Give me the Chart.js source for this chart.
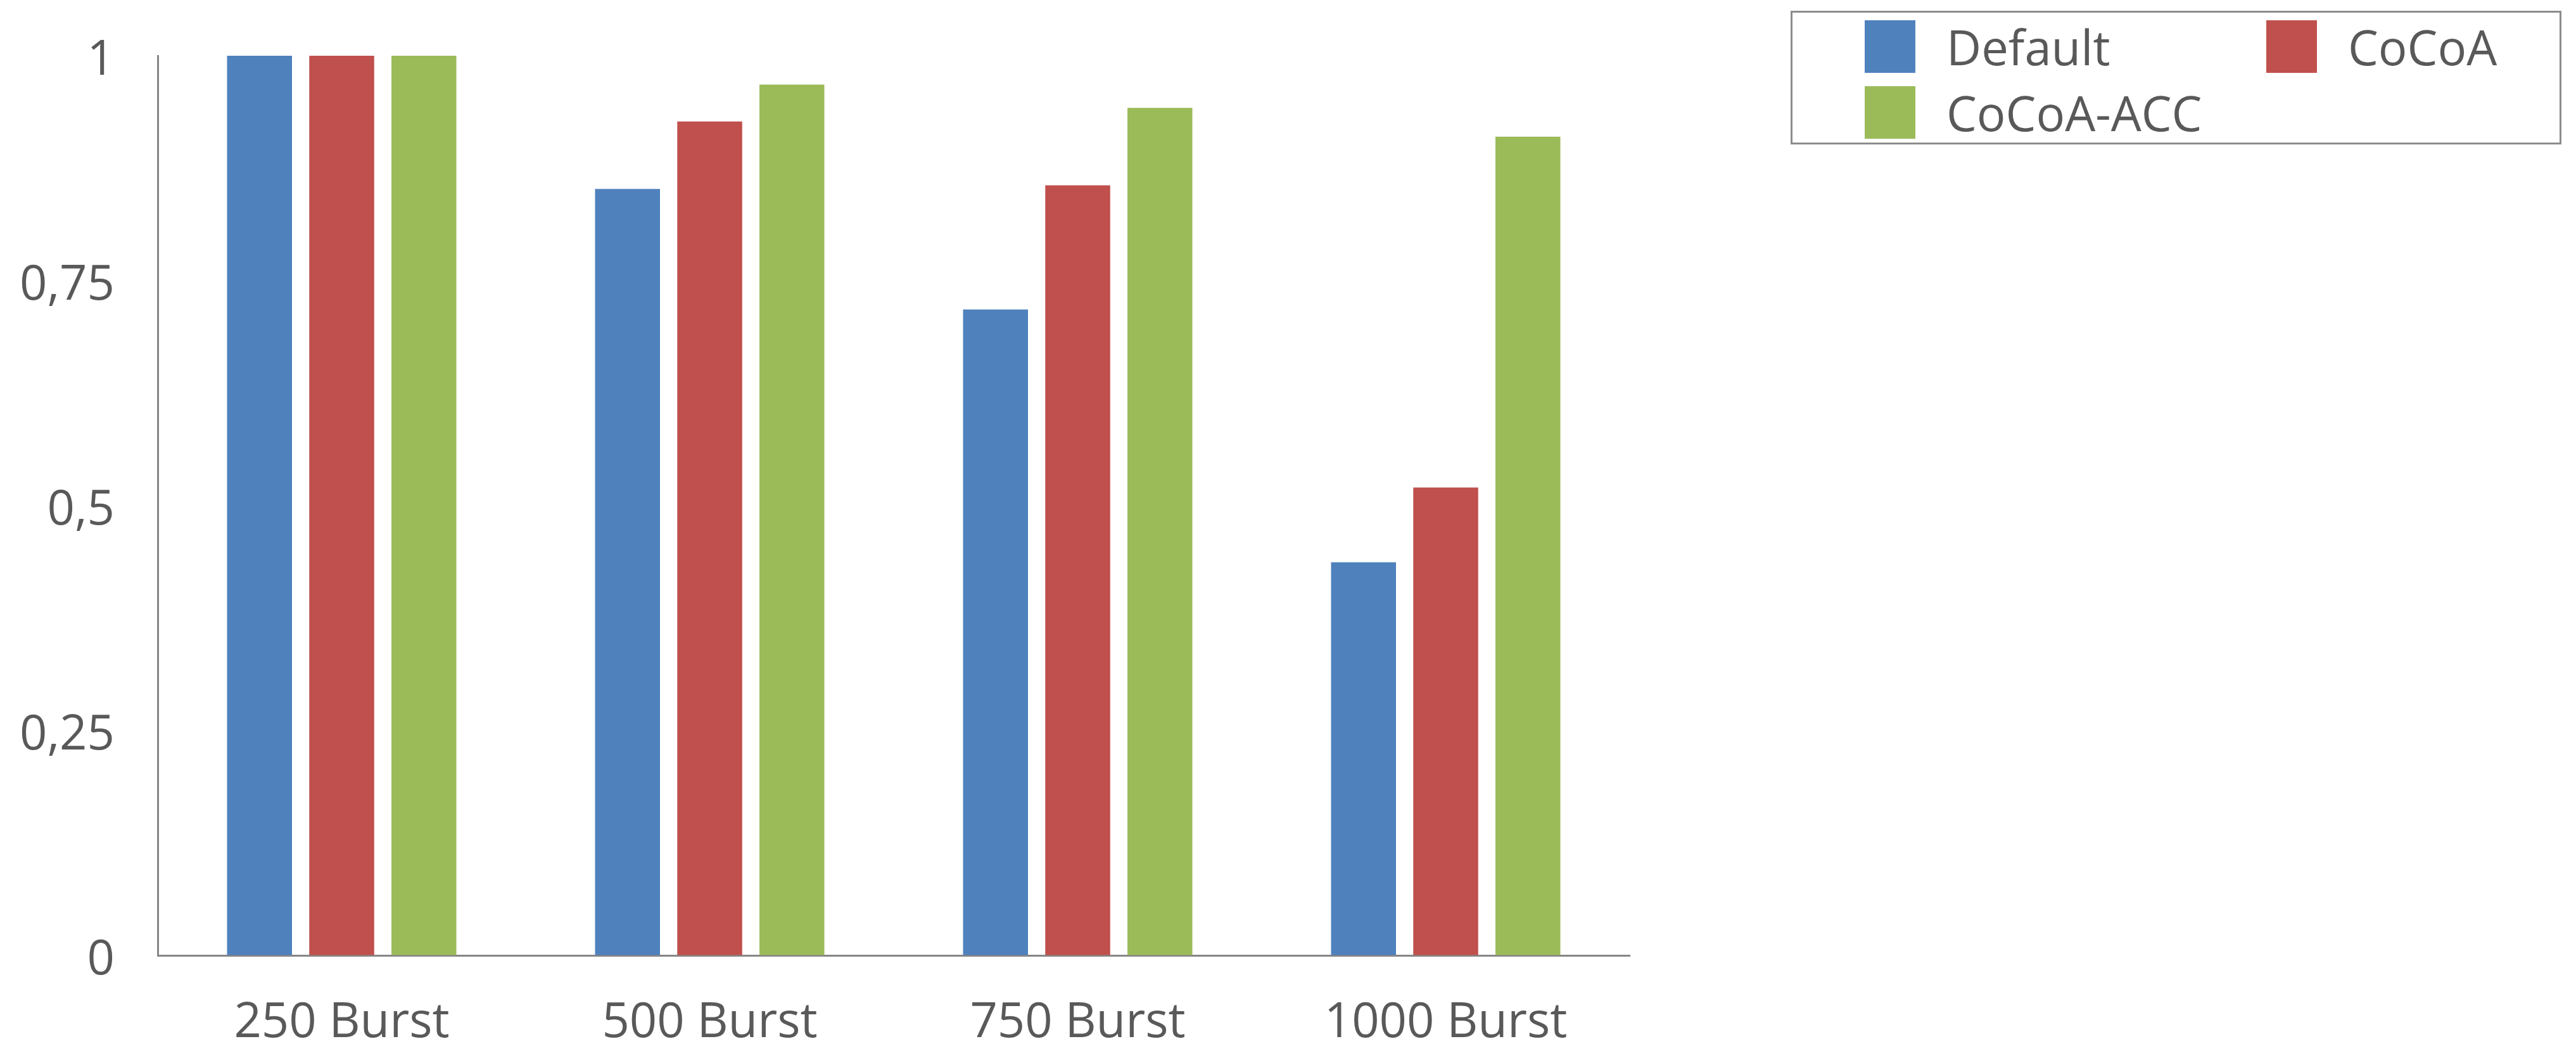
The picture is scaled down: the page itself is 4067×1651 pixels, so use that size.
<!DOCTYPE html>
<html>
<head>
<meta charset="utf-8">
<script src="https://cdn.jsdelivr.net/npm/chart.js@4/dist/chart.umd.min.js"></script>
<style>
    html, body { margin: 0; padding: 0; background: #fff; }
    #wrap { position: relative; width: 4067px; height: 1651px; }
    #chart { position: absolute; left: 0; top: 0; }
    #legend {
        position: absolute; left: 2827px; top: 17px;
        width: 1217px; height: 211px;
        border: 3px solid #8c8c8c; box-sizing: border-box;
        font-family: "Open Sans", sans-serif; font-size: 76px; color: #595959;
    }
    .legend-item { position: absolute; display: flex; align-items: center; height: 83px; }
    .legend-swatch { width: 80px; height: 83px; margin-right: 49px; }
</style>
</head>
<body>
<div id="wrap">
    <canvas id="chart" width="4067" height="1651"></canvas>
    <div id="legend"></div>
</div>
<script>
// Data
const categories = ['250 Burst', '500 Burst', '750 Burst', '1000 Burst'];
const defaultValues = [1, 0.852, 0.718, 0.437];
const cocoaValues = [1, 0.927, 0.856, 0.52];
const cocoaAccValues = [1, 0.968, 0.942, 0.91];
const yTickLabels = ['0', '0,25', '0,5', '0,75', '1'];

const seriesNames = ['Default', 'CoCoA', 'CoCoA-ACC'];
const seriesColors = ['#4f81bd', '#c0504d', '#9bbb59'];
const seriesValues = [defaultValues, cocoaValues, cocoaAccValues];

// legend slots (left, top) inside the legend box, two columns
const legendSlots = [[114, 12], [748, 12], [114, 116]];

const textColor = '#595959';
const axisColor = '#868686';

const datasets = seriesNames.map((name, i) => ({
    label: name,
    data: seriesValues[i],
    backgroundColor: seriesColors[i],
    borderWidth: 0,
    categoryPercentage: 0.67,
    barPercentage: 0.79
}));

new Chart(document.getElementById('chart'), {
    type: 'bar',
    data: { labels: categories, datasets },
    options: {
        responsive: false,
        animation: false,
        devicePixelRatio: 1,
        layout: { padding: { top: 88, right: 1494, left: 0, bottom: 0 } },
        plugins: {
            legend: { display: false },
            tooltip: { enabled: false }
        },
        scales: {
            x: {
                grid: { display: false, drawTicks: false },
                border: { display: true, color: axisColor, width: 3 },
                ticks: {
                    color: textColor,
                    padding: 62,
                    font: { family: 'Open Sans', size: 76 }
                },
                afterFit: scale => { scale.height = 143; }
            },
            y: {
                min: 0,
                max: 1,
                // invisible tick marks only push the labels away from the axis
                grid: {
                    display: true, drawOnChartArea: false, drawTicks: true,
                    tickLength: 68, color: 'rgba(0,0,0,0)'
                },
                border: { display: true, color: axisColor, width: 3 },
                ticks: {
                    stepSize: 0.25,
                    color: textColor,
                    padding: 0,
                    labelOffset: 8,
                    font: { family: 'Open Sans', size: 76 },
                    callback: (val, idx) => yTickLabels[idx]
                },
                afterFit: scale => { scale.width = 249; }
            }
        }
    }
});

// HTML legend built from the same series arrays
const legendEl = document.getElementById('legend');
seriesNames.forEach((name, i) => {
    const item = document.createElement('div');
    item.className = 'legend-item';
    item.style.left = legendSlots[i][0] + 'px';
    item.style.top = legendSlots[i][1] + 'px';
    item.innerHTML = `<span class="legend-swatch" style="background:${seriesColors[i]}"></span><span>${name}</span>`;
    legendEl.appendChild(item);
});
</script>
</body>
</html>
